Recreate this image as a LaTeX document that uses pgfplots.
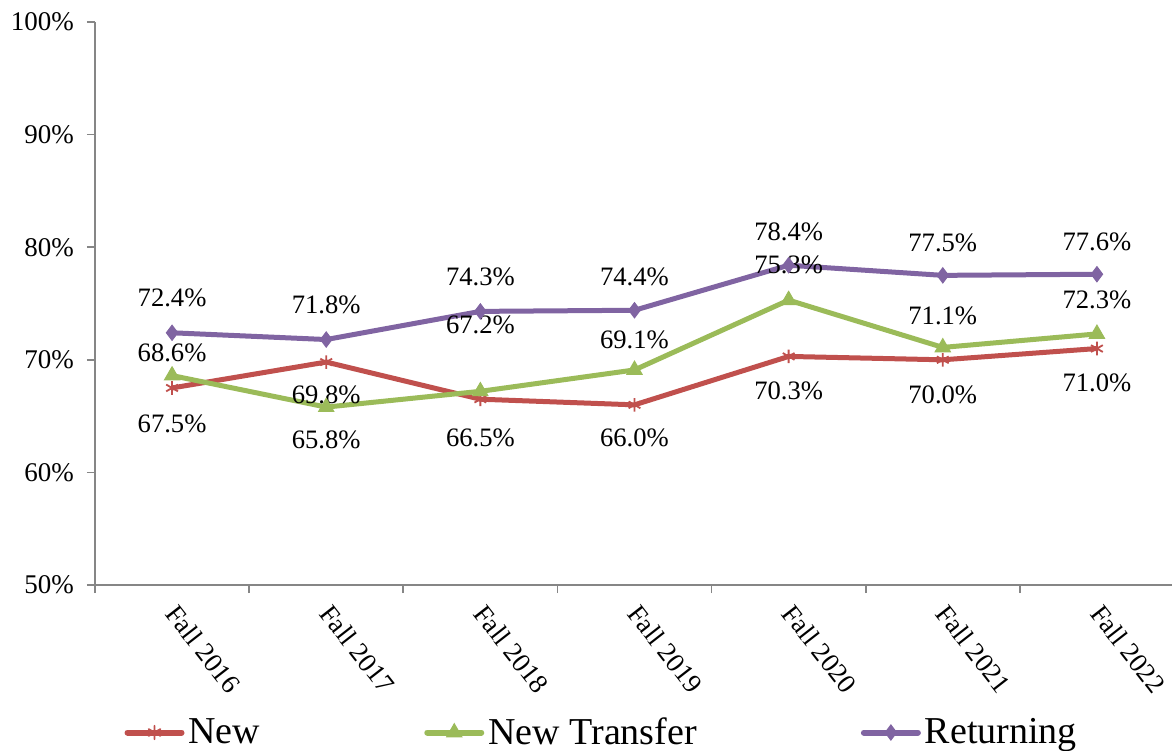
\documentclass[border=0pt]{standalone}
\usepackage{fontspec}
\setmainfont{Liberation Serif}
\usepackage{pgfplots}
\pgfplotsset{compat=1.18}
\usepackage{pgfplotstable}

\definecolor{cnew}{HTML}{C0504D}
\definecolor{ctransfer}{HTML}{9BBB59}
\definecolor{creturn}{HTML}{8064A2}
\definecolor{axisgray}{HTML}{868686}

% x, retention rate (%), label offset (pt)
\pgfplotstableread{
x y dy
0 67.5 -18
1 69.8 -16.5
2 66.5 -19.5
3 66.0 -16.5
4 70.3 -17
5 70.0 -17.5
6 71.0 -17
}\tblnew

\pgfplotstableread{
x y dy
0 68.6 11.5
1 65.8 -16.5
2 67.2 33
3 69.1 15
4 75.3 17.5
5 71.1 16
6 72.3 17
}\tbltransfer

\pgfplotstableread{
x y dy
0 72.4 17.5
1 71.8 17.5
2 74.3 17.5
3 74.4 16.5
4 78.4 16.5
5 77.5 16.5
6 77.6 16
}\tblreturn

\begin{document}
\begin{tikzpicture}
\begin{axis}[
  scale only axis, width=539.5pt, height=281.5pt,
  xmin=-0.5, xmax=6.5, ymin=50, ymax=100,
  axis x line=bottom, axis y line=left,
  axis line style={-, draw=axisgray, line width=0.8pt},
  tick style={draw=axisgray, line width=0.8pt},
  tick align=outside, major tick length=4pt, minor tick length=4pt,
  ytick={50,60,70,80,90,100},
  yticklabels={50\%,60\%,70\%,80\%,90\%,100\%},
  xtick={0,...,6},
  xticklabels={Fall 2016,Fall 2017,Fall 2018,Fall 2019,Fall 2020,Fall 2021,Fall 2022},
  major x tick style={draw=none},
  minor xtick={-0.5,0.5,1.5,2.5,3.5,4.5,5.5,6.5},
  ticklabel style={font=\fontsize{13.5}{15}\selectfont},
  yticklabel style={xshift=-3pt},
  xticklabel style={xshift=3.5pt, yshift=-4.5pt, rotate=-52, anchor=north west, inner sep=0pt},
  /pgf/number format/assume math mode=true,
  clip=false,
  nodes near coords={\pgfmathprintnumber[fixed,fixed zerofill,precision=1]{\pgfplotspointmeta}\%},
  visualization depends on={\thisrow{dy} \as \dy},
  every node near coord/.append style={font=\fontsize{13.3}{15}\selectfont, text=black, anchor=center, yshift=\dy pt},
  every axis plot/.append style={line width=2.5pt},
  legend image code/.code={\draw[mark repeat=2,mark phase=2,line cap=round,line width=3pt] plot coordinates {(0pt,0pt) (13.5pt,0pt) (27pt,0pt)};},
  legend style={at={(0.027,-0.262)}, anchor=west, draw=none, fill=none,
    legend columns=-1, inner sep=0pt,
    font=\fontsize{19}{21}\selectfont,
    /tikz/every even column/.append style={column sep=80pt}},
]
\addplot[color=cnew, mark=asterisk, mark size=3.4pt, mark options={line width=0.9pt}] table[x=x,y=y] {\tblnew};
\addplot[color=ctransfer, mark=triangle*, mark size=4.4pt, mark options={line width=0.5pt}] table[x=x,y=y] {\tbltransfer};
\addplot[color=creturn, mark=diamond*, mark size=3.8pt, mark options={line width=0.5pt}] table[x=x,y=y] {\tblreturn};
\legend{New, New Transfer\hspace{4pt}, Returning}
\end{axis}
\pgfresetboundingbox
\path (-47.5pt,-82.5pt) rectangle (538.5pt,292.5pt);
\end{tikzpicture}
\end{document}
